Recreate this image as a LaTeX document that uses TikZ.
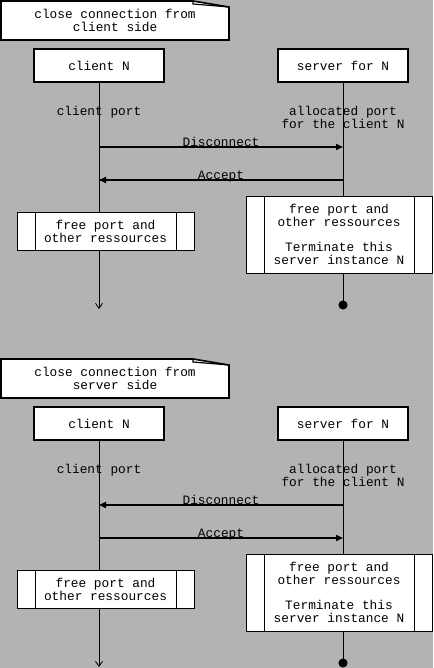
\documentclass[tikz,border=0pt]{standalone}
\usepackage{fontspec}
\setmainfont{Liberation Mono}
\usetikzlibrary{arrows.meta,positioning}
\definecolor{bggray}{RGB}{179,179,179}

\begin{document}
\begin{tikzpicture}[x=1pt, y=-1pt,
	every node/.style={font=\fontsize{12.8}{13}\selectfont, align=center, inner sep=0pt},
	headbox/.style={draw, line width=1.6pt, fill=white, minimum width=130pt, minimum height=33pt},
	procbox/.style={draw, line width=0.8pt, fill=white,
			path picture={\draw[line width=0.8pt]
					([xshift=18pt]path picture bounding box.north west) -- ([xshift=18pt]path picture bounding box.south west)
					([xshift=-18pt]path picture bounding box.north east) -- ([xshift=-18pt]path picture bounding box.south east);}},
	notebox/.style={draw, line width=1.6pt, fill=white, line join=miter},
	msg/.style={line width=1.6pt, -{Triangle[length=7pt,width=6pt]}},
	life/.style={line width=0.8pt}]
	\fill[bggray, use as bounding box] (0,0) rectangle (433,668);
	% close connection from client side
	\draw[notebox] (1,1) -- (193,1) -- (229,7) -- (229,40) -- (1,40) -- cycle;
	\draw[line width=1.2pt] (193,1) -- (193,4) -- (229,7);
	\node (title1) at (115,20) {close connection from\\client side};
	\node[headbox] (client1) at (99,65.5) {client N};
	\node[headbox] (server1) at (343,65.5) {server for N};
	\coordinate (cend1) at (99,309);
	\coordinate (send1) at (343,309.5);
	\draw[life, -{Straight Barb[length=5pt,width=7pt]}] (client1) -- (cend1);
	\draw[life, -{Circle[length=9pt]}] (server1) -- (send1);
	\node (cport1) at (99,112) {client port};
	\node (sport1) at (343,117.5) {allocated port\\for the client N};
	\coordinate (disc1) at (0,147);
	\coordinate (acc1) at (0,180);
	\draw[msg] (client1 |- disc1) -- (server1 |- disc1) node[midway, anchor=base, yshift=0.5pt] {Disconnect};
	\draw[msg] (server1 |- acc1) -- (client1 |- acc1) node[midway, anchor=base, yshift=0.5pt] {Accept};
	\node[procbox, minimum width=177pt, minimum height=38pt] (cfree1) at (105.5,231) {free port and\\other ressources};
	\node[procbox, minimum width=186pt, minimum height=77pt] (sfree1) at (339,234.5) {free port and\\other ressources\\[12pt]Terminate this\\server instance N};
	% close connection from server side
	\begin{scope}[shift={(0,358)}]
		\draw[notebox] (1,1) -- (193,1) -- (229,7) -- (229,40) -- (1,40) -- cycle;
		\draw[line width=1.2pt] (193,1) -- (193,4) -- (229,7);
		\node (title2) at (115,20) {close connection from\\server side};
		\node[headbox] (client2) at (99,65.5) {client N};
		\node[headbox] (server2) at (343,65.5) {server for N};
		\coordinate (cend2) at (99,309);
		\coordinate (send2) at (343,309.5);
		\draw[life, -{Straight Barb[length=5pt,width=7pt]}] (client2) -- (cend2);
		\draw[life, -{Circle[length=9pt]}] (server2) -- (send2);
		\node (cport2) at (99,112) {client port};
		\node (sport2) at (343,117.5) {allocated port\\for the client N};
		\coordinate (disc2) at (0,147);
		\coordinate (acc2) at (0,180);
		\draw[msg] (server2 |- disc2) -- (client2 |- disc2) node[midway, anchor=base, yshift=0.5pt] {Disconnect};
		\draw[msg] (client2 |- acc2) -- (server2 |- acc2) node[midway, anchor=base, yshift=0.5pt] {Accept};
		\node[procbox, minimum width=177pt, minimum height=38pt] (cfree2) at (105.5,231) {free port and\\other ressources};
		\node[procbox, minimum width=186pt, minimum height=77pt] (sfree2) at (339,234.5) {free port and\\other ressources\\[12pt]Terminate this\\server instance N};
	\end{scope}
\end{tikzpicture}
\end{document}
